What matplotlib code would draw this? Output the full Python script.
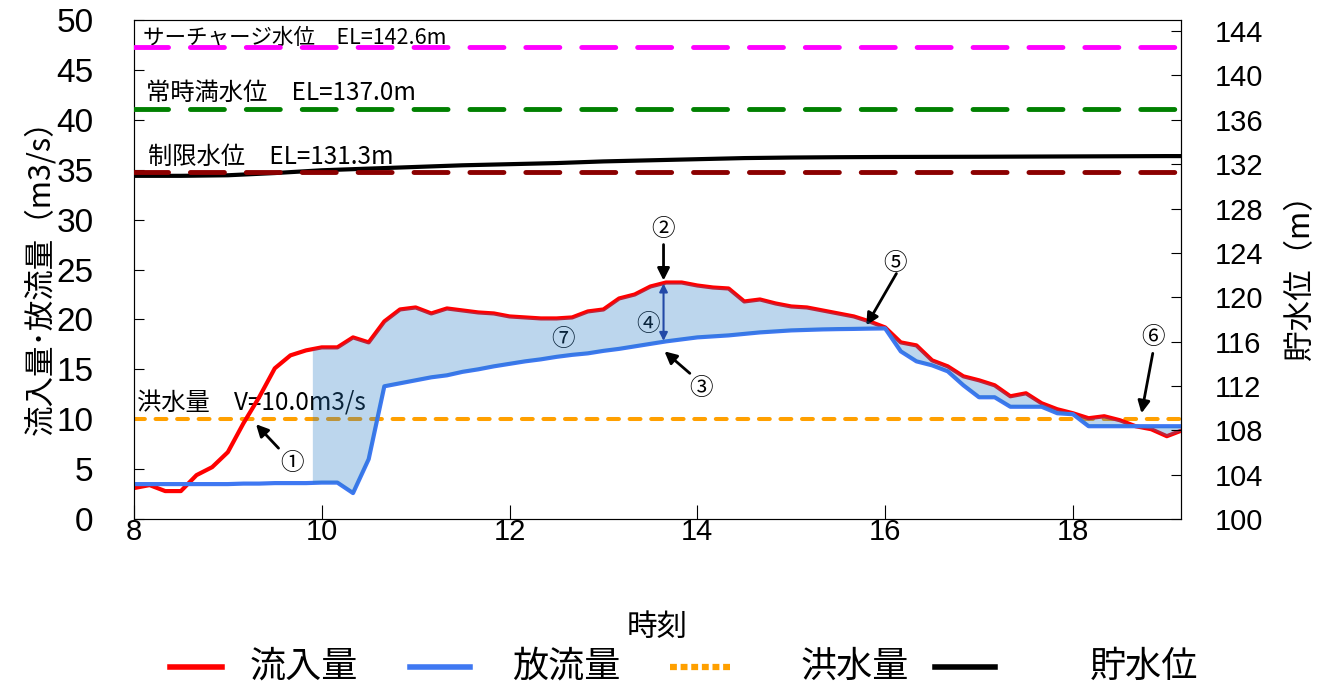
import numpy as np
import matplotlib.pyplot as plt
from matplotlib.lines import Line2D

plt.rcParams['font.family'] = ['Liberation Sans', 'Noto Sans CJK JP']

# 10-minute data from 8:00 to 19:10
minutes = np.arange(0, 680, 10)
hours = 8 + minutes / 60

inflow = [3.1, 3.4, 2.8, 2.8, 4.4, 5.2,
          6.7, 9.6, 12.2, 15.1, 16.4, 16.9,
          17.2, 17.2, 18.2, 17.7, 19.8, 21.0,
          21.2, 20.6, 21.1, 20.9, 20.7, 20.6,
          20.3, 20.2, 20.1, 20.1, 20.2, 20.8,
          21.0, 22.1, 22.5, 23.3, 23.7, 23.7,
          23.4, 23.2, 23.1, 21.8, 22.0, 21.6,
          21.3, 21.2, 20.9, 20.6, 20.3, 19.8,
          19.2, 17.7, 17.4, 15.9, 15.3, 14.3,
          13.9, 13.4, 12.3, 12.6, 11.6, 11.0,
          10.6, 10.1, 10.3, 9.9, 9.3, 9.0,
          8.3, 8.9]

outflow = [3.5, 3.5, 3.5, 3.5, 3.5, 3.5,
           3.5, 3.55, 3.55, 3.6, 3.6, 3.6,
           3.65, 3.65, 2.6, 6.0, 13.3, 13.6,
           13.9, 14.2, 14.4, 14.75, 15.0, 15.3,
           15.55, 15.8, 16.0, 16.25, 16.45, 16.6,
           16.85, 17.05, 17.3, 17.55, 17.8, 18.0,
           18.2, 18.3, 18.4, 18.55, 18.7, 18.8,
           18.9, 18.95, 19.0, 19.03, 19.05, 19.08,
           19.1, 16.8, 15.8, 15.4, 14.8, 13.4,
           12.2, 12.2, 11.25, 11.25, 11.25, 10.6,
           10.5, 9.3, 9.3, 9.3, 9.3, 9.3,
           9.3, 9.3]

level_hours = [8, 8.5, 9, 9.5, 10, 10.5, 11, 11.5, 12, 12.5, 13, 13.5,
               14, 14.5, 15, 15.5, 16, 17, 18, 19, 19.5]
level = [130.95, 130.95, 131.0, 131.2, 131.45, 131.6, 131.75, 131.9, 132.0,
         132.1, 132.25, 132.35, 132.45, 132.55, 132.6, 132.63, 132.65,
         132.67, 132.7, 132.73, 132.73]

surcharge_el = 142.6
normal_el = 137.0
limit_el = 131.3
flood_q = 10.0
fill_start = 9.9

legend_labels = ['流入量', '放流量', '洪水量', '貯水位']

inflow = np.array(inflow)
outflow = np.array(outflow)

fig = plt.figure(figsize=(13.26, 6.86), dpi=100)
ax = fig.add_axes([0.101, 0.2434, 0.7896, 0.7274])
ax2 = ax.twinx()

red = '#ff0000'
blue = '#3f78f2'
orange = '#ffa000'
jp = 'Noto Sans CJK JP'

ax.plot(hours, inflow, color=red, lw=3, zorder=3)
ax.plot(hours, outflow, color=blue, lw=3, zorder=3)
ax.axhline(flood_q, color=orange, lw=2.9, dashes=(2.7, 2.65),
           dash_capstyle='round', zorder=2)

# shaded storage volume (between inflow and outflow)
m = hours >= fill_start
fx = np.concatenate([[fill_start], hours[m]])
fr = np.concatenate([[np.interp(fill_start, hours, inflow)], inflow[m]])
fb = np.concatenate([[np.interp(fill_start + 0.04, hours, outflow)], outflow[m]])
ax.fill_between(fx, fb, fr, color='#237ac6', alpha=0.3, lw=0, zorder=5)

ax.set_xlim(8, 19.15)
ax.set_ylim(0, 50)
ax.set_xticks([8, 10, 12, 14, 16, 18])
ax.set_yticks(np.arange(0, 51, 5))
ax.tick_params(axis='y', direction='in', length=7, labelsize=24, pad=29)
ax.tick_params(axis='x', direction='in', length=10, labelsize=21, pad=-1)
ax.set_ylabel('流入量･放流量（m3/s）', fontsize=22, family=jp, labelpad=0)
ax.set_xlabel('時刻', fontsize=22, family=jp, labelpad=48)

# reservoir level on the right axis
ax2.plot(level_hours, level, color='black', lw=3, zorder=2)
for el, c in [(surcharge_el, '#ff00ff'), (normal_el, '#008000'), (limit_el, '#8b0000')]:
    ax2.axhline(el, color=c, lw=3.5, dashes=(7, 4.5), dash_capstyle='round', zorder=3)
ax2.set_ylim(100, 145)
ax2.set_yticks(np.arange(100, 145, 4))
ax2.tick_params(axis='y', direction='in', length=7, labelsize=21, pad=24)
ax2.set_ylabel('貯水位（m）', fontsize=22, family=jp, labelpad=16)

ax.text(8.1, 48.2, 'サーチャージ水位　EL=142.6m', fontsize=15.5, family=jp, va='center')
ax.text(8.13, 42.65, '常時満水位　EL=137.0m', fontsize=17.5, family=jp, va='center')
ax.text(8.15, 36.3, '制限水位　EL=131.3m', fontsize=17.5, family=jp, va='center')
ax.text(8.03, 11.6, '洪水量　V=10.0m3/s', fontsize=17.5, family=jp, va='center', zorder=1)

# markers
arrow = dict(arrowstyle='-|>', color='black', lw=2, mutation_scale=18, shrinkA=0, shrinkB=0)
ax.text(9.68, 5.6, '①', fontsize=17, family=jp, ha='center', va='center')
ax.annotate('', xy=(9.3, 9.5), xytext=(9.54, 7.1), arrowprops=arrow)
ax.text(13.63, 29.0, '②', fontsize=17, family=jp, ha='center', va='center')
ax.annotate('', xy=(13.64, 23.9), xytext=(13.64, 27.5), arrowprops=arrow)
ax.text(14.04, 13.1, '③', fontsize=17, family=jp, ha='center', va='center')
ax.annotate('', xy=(13.65, 16.8), xytext=(13.92, 14.6), arrowprops=arrow)
ax.text(13.48, 19.5, '④', fontsize=17, family=jp, ha='center', va='center', zorder=4)
ax.annotate('', xy=(13.64, 23.6), xytext=(13.64, 17.85),
            arrowprops=dict(arrowstyle='<|-|>', color='#23359a', lw=1.5,
                            mutation_scale=12, shrinkA=0, shrinkB=0))
ax.text(16.11, 25.6, '⑤', fontsize=17, family=jp, ha='center', va='center')
ax.annotate('', xy=(15.8, 19.4), xytext=(16.12, 24.6), arrowprops=arrow)
ax.text(18.85, 18.2, '⑥', fontsize=17, family=jp, ha='center', va='center')
ax.annotate('', xy=(18.73, 10.6), xytext=(18.85, 16.6), arrowprops=arrow)
ax.text(12.57, 18.0, '⑦', fontsize=17, family=jp, ha='center', va='center', zorder=4)

for s in ['left', 'top', 'bottom']:
    ax.spines[s].set_color('#555555')

# legend row along the bottom (Excel style spacing)
handles = [Line2D([], [], color=red, lw=4),
           Line2D([], [], color=blue, lw=4),
           Line2D([], [], color=orange, lw=4.5, dashes=(1.1, 0.6)),
           Line2D([], [], color='black', lw=4)]
handle_x = [(170, 222), (410, 470), (670, 730), (935, 995)]
text_x = [250, 512, 800, 1090]
W, H = 1326, 686
ly = 1 - 667 / H
for h, (x0, x1), tx, lab in zip(handles, handle_x, text_x, legend_labels):
    h.set_data([x0 / W, x1 / W], [ly, ly])
    h.set_transform(fig.transFigure)
    fig.add_artist(h)
    fig.text(tx / W, ly, lab, fontsize=26, family=jp, va='center', ha='left')

fig.savefig('out.png', dpi=100)
